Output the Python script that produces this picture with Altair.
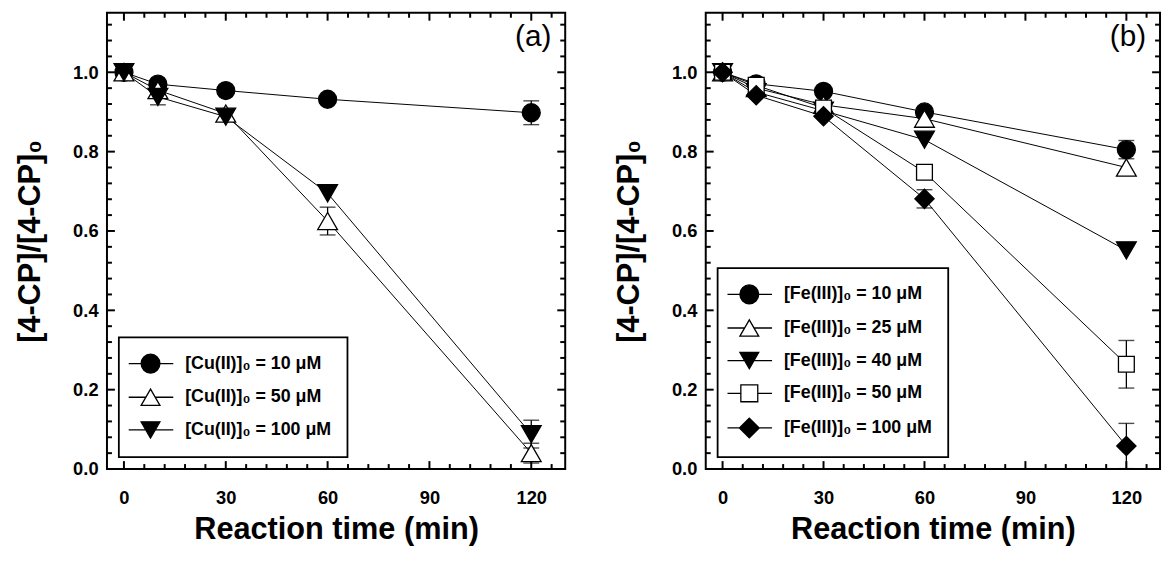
import altair as alt
import pandas as pd

FONT = "Liberation Sans"

# ---------------- data ----------------
times = [0, 10, 30, 60, 120]

cu_labels = ["[Cu(II)]₀ = 10 μM", "[Cu(II)]₀ = 50 μM", "[Cu(II)]₀ = 100 μM"]
cu_10 = [1.00, 0.970, 0.954, 0.932, 0.898]
cu_50 = [1.00, 0.955, 0.896, 0.625, 0.040]
cu_100 = [1.00, 0.938, 0.888, 0.695, 0.088]
cu_10_err = [0, 0, 0, 0, 0.030]
cu_50_err = [0, 0, 0, 0.035, 0.025]
cu_100_err = [0, 0.020, 0, 0, 0.035]

fe_labels = ["[Fe(III)]₀ = 10 μM", "[Fe(III)]₀ = 25 μM", "[Fe(III)]₀ = 40 μM",
             "[Fe(III)]₀ = 50 μM", "[Fe(III)]₀ = 100 μM"]
fe_10 = [1.00, 0.971, 0.952, 0.900, 0.805]
fe_25 = [1.00, 0.960, 0.918, 0.883, 0.760]
fe_40 = [1.00, 0.950, 0.903, 0.830, 0.551]
fe_50 = [1.00, 0.967, 0.910, 0.748, 0.264]
fe_100 = [1.00, 0.942, 0.889, 0.681, 0.058]
fe_10_err = [0, 0, 0, 0, 0.023]
fe_25_err = [0, 0, 0, 0, 0]
fe_40_err = [0, 0, 0, 0, 0]
fe_50_err = [0, 0, 0, 0, 0.060]
fe_100_err = [0, 0, 0, 0.023, 0.057]

x_major = [0, 30, 60, 90, 120]
x_minor = [6, 12, 18, 24, 36, 42, 48, 54, 66, 72, 78, 84, 96, 102, 108, 114, 126]
y_major = [0.0, 0.2, 0.4, 0.6, 0.8, 1.0]
y_minor = [0.04, 0.08, 0.12, 0.16, 0.24, 0.28, 0.32, 0.36, 0.44, 0.48, 0.52, 0.56,
           0.64, 0.68, 0.72, 0.76, 0.84, 0.88, 0.92, 0.96, 1.04, 1.08, 1.12]

# ---------------- styles ----------------
X_DOM = [-5, 130]
Y_DOM = [0, 1.15]
H = 461
MAJ, MIN = 8, 5

# marker styles per series: (vega shape, filled, size)
STYLE = {
    "circle": ("circle", True, 330),
    "tri_open": ("triangle-up", False, 400),
    "tri_down": ("triangle-down", True, 400),
    "square_open": ("square", False, 256),
    "diamond": ("diamond", True, 380),
}


def f(v):
    return f"{v:.3f}"


def legend_path(kind, s=0.58, left=-1.74, right=3.0):
    """Legend symbol: marker shifted by s units, plus a line through it."""
    half = {"circle": 1.0, "tri_open": 0.5, "tri_down": 0.5,
            "square_open": 0.9, "diamond": 1.05}[kind]
    line = f"M{f(left)},0H{f(s - half)}M{f(s + half)},0H{f(right)}"
    if kind == "circle":
        m = (f"M{f(s - 1)},0A1,1,0,1,0,{f(s + 1)},0A1,1,0,1,0,{f(s - 1)},0Z")
    elif kind == "tri_open":
        m = f"M{f(s)},-0.866L{f(s - 1)},0.866L{f(s + 1)},0.866Z"
    elif kind == "tri_down":
        m = f"M{f(s)},0.866L{f(s - 1)},-0.866L{f(s + 1)},-0.866Z"
    elif kind == "square_open":
        m = f"M{f(s - 0.9)},-0.9H{f(s + 0.9)}V0.9H{f(s - 0.9)}Z"
    else:
        m = f"M{f(s - 1.05)},0L{f(s)},-1.05L{f(s + 1.05)},0L{f(s)},1.05Z"
    return line + m


def make_x(field):
    return alt.X(f"{field}:Q", scale=alt.Scale(domain=X_DOM, nice=False, zero=False),
                 axis=alt.Axis(values=x_major, title="Reaction time (min)"))


def make_y(field):
    return alt.Y(f"{field}:Q", scale=alt.Scale(domain=Y_DOM, nice=False, zero=False),
                 axis=alt.Axis(values=y_major, format=".1f", title="[4-CP]/[4-CP]₀"))


def tick_layers(W):
    out = []
    for vals, L in ((x_major, MAJ), (x_minor, MIN)):
        d = alt.Chart(pd.DataFrame({"t": vals}))
        out.append(d.mark_rule(color="black", strokeWidth=2).encode(
            x=make_x("t"), y=alt.value(H - L), y2=alt.value(H)))
        out.append(d.mark_rule(color="black", strokeWidth=2).encode(
            x=make_x("t"), y=alt.value(0), y2=alt.value(L)))
    for vals, L in ((y_major, MAJ), (y_minor, MIN)):
        d = alt.Chart(pd.DataFrame({"v": vals}))
        out.append(d.mark_rule(color="black", strokeWidth=2).encode(
            y=make_y("v"), x=alt.value(0), x2=alt.value(L)))
        out.append(d.mark_rule(color="black", strokeWidth=2).encode(
            y=make_y("v"), x=alt.value(W - L), x2=alt.value(W)))
    return out


def panel(labels, series, errors, styles, tag, W):
    rows = []
    for lab, vals, errs in zip(labels, series, errors):
        for t, v, e in zip(times, vals, errs):
            rows.append({"series": lab, "t": t, "v": v, "e": e, "lo": v - e, "hi": v + e})
    df = pd.DataFrame(rows)
    base = alt.Chart(df)

    lines = base.mark_line(color="black", strokeWidth=1).encode(
        x=make_x("t"), y=make_y("v"), detail="series:N")

    eb = base.transform_filter("datum.e > 0")
    bars = eb.mark_rule(color="black", strokeWidth=1.3).encode(
        x=make_x("t"), y=make_y("lo"), y2="hi:Q")
    cap_lo = eb.mark_tick(orient="horizontal", color="black", size=16, thickness=1.4).encode(
        x=make_x("t"), y=make_y("lo"))
    cap_hi = eb.mark_tick(orient="horizontal", color="black", size=16, thickness=1.4).encode(
        x=make_x("t"), y=make_y("hi"))

    pts = []
    for lab, st in zip(labels, styles):
        shape, filled, size = STYLE[st]
        pts.append(base.transform_filter(alt.datum.series == lab).mark_point(
            shape=shape, size=size, filled=True, opacity=1,
            fill="black" if filled else "white", stroke="black", strokeWidth=1.3,
        ).encode(x=make_x("t"), y=make_y("v")))

    leg_props = dict(
        title=None, orient="bottom-left", offset=12, padding=16, rowPadding=10,
        labelFont=FONT, labelFontSize=18, labelFontWeight="bold", labelColor="black",
        labelOffset=30, labelLimit=400, symbolSize=361, symbolStrokeWidth=1.3,
        symbolStrokeColor="black", symbolOpacity=1, strokeColor="black",
    )
    legend_layer = base.transform_filter("false").mark_point(
        size=361, opacity=1, strokeWidth=1.3
    ).encode(
        x=make_x("t"), y=make_y("v"),
        shape=alt.Shape("series:N", scale=alt.Scale(domain=labels,
                        range=[legend_path(s) for s in styles]),
                        legend=alt.Legend(**leg_props)),
        fill=alt.Fill("series:N", scale=alt.Scale(domain=labels,
                      range=["black" if STYLE[s][1] else "white" for s in styles]),
                      legend=alt.Legend(**leg_props)),
        stroke=alt.Stroke("series:N", scale=alt.Scale(domain=labels,
                          range=["black" for s in styles]),
                          legend=alt.Legend(**leg_props)),
    )

    return alt.layer(*tick_layers(W), lines, bars, cap_lo, cap_hi, *pts, legend_layer).properties(
        width=W, height=H,
        title=alt.TitleParams(tag, anchor="end", orient="top", frame="group", offset=-71,
                              dx=-14, baseline="bottom", fontSize=30, fontWeight="normal",
                              font=FONT, color="black"),
    )


left = panel(cu_labels, [cu_10, cu_50, cu_100], [cu_10_err, cu_50_err, cu_100_err],
             ["circle", "tri_open", "tri_down"], "(a)", 463)
right = panel(fe_labels, [fe_10, fe_25, fe_40, fe_50, fe_100],
              [fe_10_err, fe_25_err, fe_40_err, fe_50_err, fe_100_err],
              ["circle", "tri_open", "tri_down", "square_open", "diamond"], "(b)", 459)

chart = alt.hconcat(left, right, spacing=46).resolve_scale(
    shape="independent", fill="independent", stroke="independent"
).resolve_legend(
    shape="independent", fill="independent", stroke="independent"
).properties(
    padding={"left": 6, "top": 0, "right": 0, "bottom": 0}
).configure_view(stroke="black", strokeWidth=2).configure_axis(
    grid=False, ticks=False, tickSize=0, domain=False,
    labelFont=FONT, labelFontSize=18.5, labelFontWeight="bold", labelColor="black",
    titleFont=FONT, titleFontSize=31, titleFontWeight="bold", titleColor="black",
).configure_axisX(labelPadding=20, titlePadding=8).configure_axisY(
    labelPadding=9, titlePadding=26
).configure_legend(strokeWidth=1.8)

chart.save("out.html", embed_options={"renderer": "svg", "actions": False})
